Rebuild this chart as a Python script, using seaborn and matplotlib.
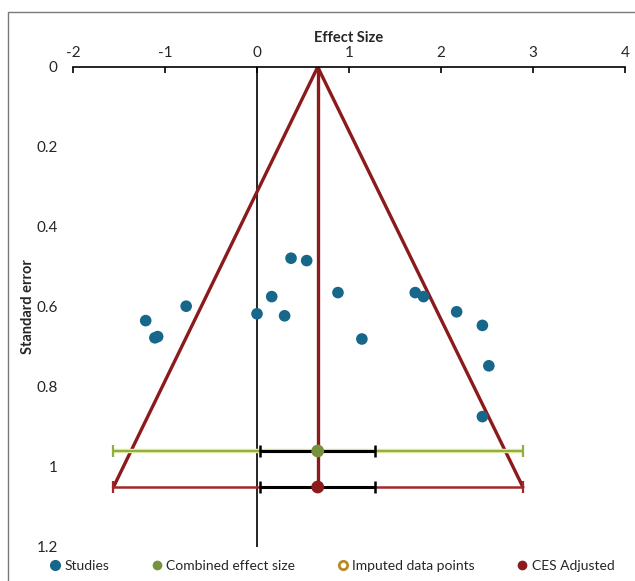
import matplotlib
matplotlib.use("Agg")
import matplotlib.pyplot as plt
from matplotlib.lines import Line2D
from matplotlib.patches import Rectangle
import seaborn as sns

# Data
study_effect = [-1.21, -1.11, -1.08, -0.77, 0.00, 0.16, 0.30, 0.37, 0.54,
                0.88, 1.14, 1.72, 1.81, 2.17, 2.45, 2.52, 2.45]
study_se = [0.634, 0.677, 0.674, 0.598, 0.617, 0.574, 0.622, 0.478, 0.484,
            0.564, 0.680, 0.564, 0.574, 0.612, 0.646, 0.747, 0.874]

combined_es = 0.66
combined_y = 0.96
adjusted_es = 0.66
adjusted_y = 1.05
ci_half = 0.625          # black inner interval
pi_half = 2.23           # outer (prediction) interval
funnel_x = [-1.56, 0.66, 2.89]
funnel_y = [1.05, 0.0, 1.05]

x_ticks = [-2, -1, 0, 1, 2, 3, 4]
x_labels = ["-2", "-1", "0", "1", "2", "3", "4"]
y_ticks = [0, 0.2, 0.4, 0.6, 0.8, 1.0, 1.2]
y_labels = ["0", "0.2", "0.4", "0.6", "0.8", "1", "1.2"]

# colours
c_study = "#17678A"
c_comb = "#76923C"
c_green_bar = "#8FAF45"
c_adj = "#8E1B1B"
c_funnel = "#8B1A1A"
c_imputed = "#B8892A"

sns.set_style("white")
plt.rcParams["font.family"] = ["Lato", "DejaVu Sans"]

fig = plt.figure(figsize=(6.35, 5.81), dpi=100)
ax = fig.add_axes([73 / 635, 1 - 547 / 581, 552 / 635, 480 / 581])

# outer frame of the picture
fig.patches.append(Rectangle((8 / 635, -0.1), 2, 1 - 12 / 581 + 0.1,
                             transform=fig.transFigure, fill=False,
                             edgecolor="#7a7a7a", lw=1.0, zorder=0))

# y axis crossing at 0
ax.axvline(0, color="black", lw=1.2, zorder=1)

# funnel
sns.lineplot(x=funnel_x, y=funnel_y, ax=ax, color=c_funnel, lw=2.4,
             sort=False, estimator=None, zorder=2)
ax.plot([adjusted_es, adjusted_es], [0, adjusted_y], color=c_funnel, lw=2.4, zorder=2)

# combined effect intervals
ax.errorbar(combined_es, combined_y, xerr=pi_half, fmt="none", ecolor="#E9EDA0",
            elinewidth=3.2, capsize=0, zorder=3)
ax.errorbar(combined_es, combined_y, xerr=pi_half, fmt="none", ecolor=c_green_bar,
            elinewidth=1.6, capsize=4, capthick=1.6, zorder=3)
ax.errorbar(combined_es, combined_y, xerr=ci_half, fmt="none", ecolor="black",
            elinewidth=2.2, capsize=4, capthick=1.8, zorder=4)

# adjusted intervals
ax.errorbar(adjusted_es, adjusted_y, xerr=pi_half, fmt="none", ecolor="#A3262B",
            elinewidth=1.8, capsize=4, capthick=1.6, zorder=3)
ax.errorbar(adjusted_es, adjusted_y, xerr=ci_half, fmt="none", ecolor="black",
            elinewidth=2.2, capsize=4, capthick=1.8, zorder=4)

# points
sns.scatterplot(x=study_effect, y=study_se, ax=ax, color=c_study, s=70,
                edgecolor="none", zorder=5)
sns.scatterplot(x=[combined_es], y=[combined_y], ax=ax, color=c_comb, s=85,
                edgecolor="none", zorder=5)
sns.scatterplot(x=[adjusted_es], y=[adjusted_y], ax=ax, color=c_adj, s=85,
                edgecolor="none", zorder=5)

ax.set_xlim(-2, 4)
ax.set_ylim(1.2, 0)
for side in ["left", "right", "bottom"]:
    ax.spines[side].set_visible(False)
ax.spines["top"].set_color("black")
ax.spines["top"].set_linewidth(1.2)

ax.xaxis.tick_top()
ax.xaxis.set_label_position("top")
ax.set_xticks(x_ticks)
ax.set_xticklabels(x_labels)
ax.set_yticks(y_ticks)
ax.set_yticklabels(y_labels)
ax.tick_params(axis="x", direction="in", length=4, width=1.2, color="black",
               labelsize=11, pad=5, top=True, bottom=False)
ax.tick_params(axis="y", length=0, labelsize=11, pad=11)

ax.set_xlabel("Effect Size", fontsize=10.5, fontweight="bold", labelpad=3)
ax.set_ylabel("Standard error", fontsize=10.5, fontweight="bold", labelpad=1)

handles = [
    Line2D([], [], ls="none", marker="o", ms=7, color=c_study),
    Line2D([], [], ls="none", marker="o", ms=6, color=c_comb),
    Line2D([], [], ls="none", marker="o", ms=6, markerfacecolor="white",
           markeredgecolor=c_imputed, markeredgewidth=2),
    Line2D([], [], ls="none", marker="o", ms=6, color=c_adj),
]
labels = ["Studies", "Combined effect size", "Imputed data points", "CES Adjusted"]
fig.legend(handles, labels, loc="center", bbox_to_anchor=(332 / 635, 1 - 566 / 581),
           ncol=4, frameon=False, fontsize=10, handlelength=0.8,
           handletextpad=0.3, columnspacing=3.0)

fig.savefig("out.png", dpi=100)
